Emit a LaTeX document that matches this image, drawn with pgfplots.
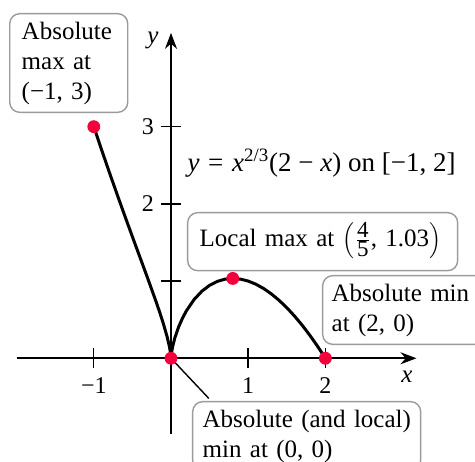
\documentclass[border=0pt]{standalone}
\usepackage{fontspec}
\setmainfont{Liberation Serif}
\usepackage{pgfplots}
\pgfplotsset{compat=1.18}
\usetikzlibrary{arrows.meta}
\definecolor{dotred}{RGB}{245,0,60}
\definecolor{boxgray}{RGB}{155,155,155}
\newcommand{\thk}{\hspace{0.32em}}
\newcommand{\med}{\hspace{0.25em}}
\begin{document}
\begin{tikzpicture}[
  lbl/.style={draw=boxgray, line width=0.7pt, rounded corners=5pt, fill=white, align=left, anchor=north west, font=\fontsize{12.5}{15}\selectfont, inner ysep=4pt}
]
\begin{axis}[
  x=38.6pt, y=38.6pt,
  xmin=-2.0, xmax=3.18, ymin=-0.98, ymax=4.215,
  axis lines=middle,
  axis line style={line width=0.9pt, -{Stealth[length=8pt,width=6pt]}},
  xtick={-1,1,2}, xticklabels={−1,1,2},
  ytick={1,2,3}, yticklabels={,2,3},
  tick style={black, line width=0.7pt},
  major tick length=10pt,
  tick align=center,
  ticklabel style={font=\fontsize{12}{13}\selectfont},
  xticklabel style={yshift=-1pt},
  clip=false,
  enlargelimits=false,
]
\coordinate (bl) at (axis cs:-2.215,-1.343);
\coordinate (tr) at (axis cs:3.938,4.641);
\addplot[black, line width=1.5pt] coordinates {
(-1,3) (-0.9,2.7033) (-0.8,2.4130) (-0.7,2.1286) (-0.6,1.8496) (-0.5,1.5749)
(-0.4,1.3029) (-0.3,1.0307) (-0.2,0.7524) (-0.15,0.6070) (-0.1,0.4524)
(-0.05,0.2782) (-0.02,0.1488) (-0.005,0.0586) (0,0)
(0.005,0.0583) (0.02,0.1459) (0.05,0.2647) (0.1,0.4093) (0.15,0.5223)
(0.2,0.6156) (0.3,0.7618) (0.4,0.8686) (0.5,0.9449) (0.6,0.9959)
(0.7,1.0249) (0.8,1.0341) (0.9,1.0254) (1.0,1.0) (1.1,0.9590) (1.2,0.9034)
(1.3,0.8338) (1.4,0.7509) (1.5,0.6552) (1.6,0.5472) (1.7,0.4273)
(1.8,0.2959) (1.9,0.1534) (2,0)
};
\draw[black, line width=0.7pt] (axis cs:0,0) -- (axis cs:0.49,-0.52);
\addplot[only marks, mark=*, mark size=3pt, color=dotred] coordinates {(-1,3) (0,0) (0.8,1.0341) (2,0)};
\node[lbl, inner xsep=6pt, text width=47pt] at (axis cs:-2.098,4.473) {Absolute\\max at\\(−1, 3)};
\node[anchor=base west, inner sep=0pt, font=\fontsize{13.5}{15}\selectfont] at (axis cs:0.21,2.413) {\textit{y}\thk=\thk\textit{x}\textsuperscript{2/3}(2\med−\med\textit{x}) on [−1, 2]};
\node[lbl, inner xsep=6pt, inner ysep=2pt, text height=15pt, text depth=10pt, text width=123pt] at (axis cs:0.207,1.895) {Local max at $\left(\frac{\hbox{\fontsize{11.5}{12}\selectfont 4}}{\hbox{\fontsize{11.5}{12}\selectfont 5}}\hbox{, 1.03}\right)$};
\node[lbl, inner xsep=4.5pt, text width=76pt] at (axis cs:1.956,1.079) {Absolute min\\at (2, 0)};
\node[lbl, inner xsep=5pt, text width=104pt] at (axis cs:0.272,-0.553) {\mbox{Absolute (and local)}\\min at (0, 0)};
\node[font=\fontsize{12.5}{15}\selectfont\itshape] at (axis cs:3.057,-0.243) {x};
\node[font=\fontsize{12.5}{15}\selectfont\itshape] at (axis cs:-0.233,4.123) {y};
\end{axis}
\pgfresetboundingbox
\useasboundingbox (bl) rectangle (tr);
\end{tikzpicture}
\end{document}
